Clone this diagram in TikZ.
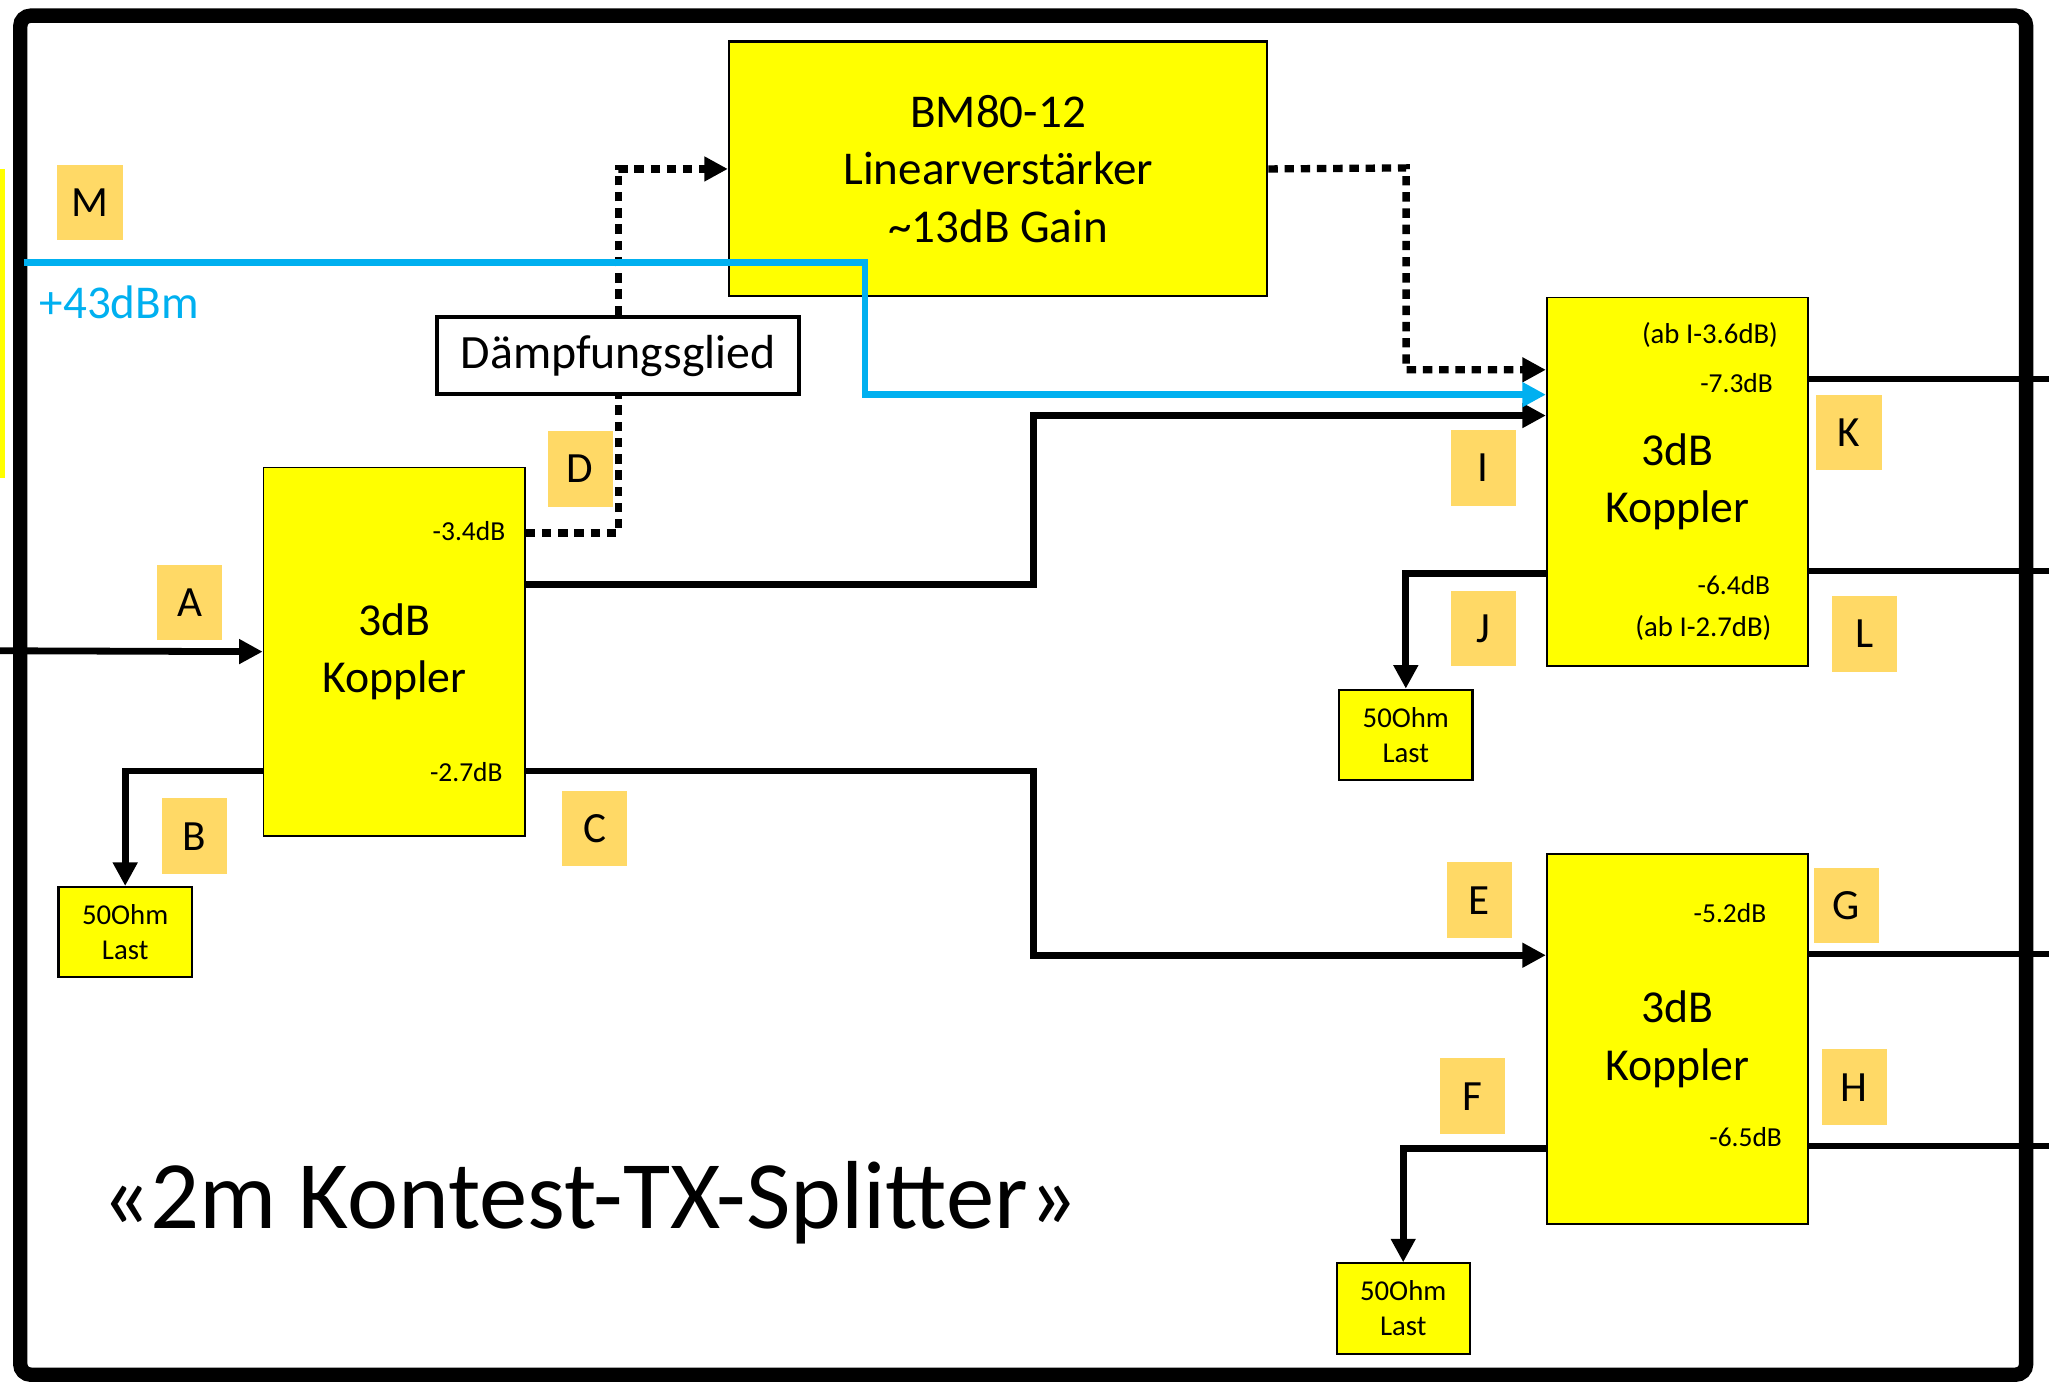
\documentclass[tikz,border=0pt]{standalone}
\usepackage{fontspec}
\setmainfont{Carlito}
\usetikzlibrary{arrows.meta}
\definecolor{boxyellow}{HTML}{FFFF00}
\definecolor{tagorange}{HTML}{FFD966}
\definecolor{sigblue}{HTML}{00B0F0}
\begin{document}
\begin{tikzpicture}[x=0.5pt,y=-0.5pt,
  koppler/.style={draw, line width=0.7pt, fill=boxyellow, minimum width=100pt, minimum height=141pt,
    anchor=north west, align=center, inner sep=0pt, font=\fontsize{17.5}{22}\selectfont},
  bigbox/.style={draw, line width=0.8pt, fill=boxyellow, minimum width=206pt, minimum height=97.5pt,
    anchor=north west, align=center, inner sep=0pt, font=\fontsize{18}{22}\selectfont},
  loadbox/.style={draw, line width=0.8pt, fill=boxyellow, minimum width=51pt, minimum height=34.5pt,
    anchor=north west, align=center, inner sep=0pt, font=\fontsize{11}{13.5}\selectfont},
  attbox/.style={draw, line width=1.6pt, fill=white, minimum width=138.5pt, minimum height=29.5pt,
    anchor=north west, inner sep=0pt, font=\fontsize{18.3}{22}\selectfont},
  tag/.style={fill=tagorange, minimum width=25pt, minimum height=29pt, inner sep=0pt,
    font=\fontsize{16.5}{20}\selectfont, text height=10.6pt, text depth=0pt},
  dbl/.style={inner sep=0pt, anchor=east, font=\fontsize{10.5}{12}\selectfont, text height=6.7pt, text depth=0pt},
  abl/.style={inner sep=0pt, anchor=east, font=\fontsize{11}{13}\selectfont, text height=7pt, text depth=0pt},
  wire/.style={line width=2.6pt},
  arr/.style={-{Triangle[length=9pt,width=9pt]}},
  dotwire/.style={line width=2.8pt, dash pattern=on 3.6pt off 2.6pt}
]
\useasboundingbox (0,0) rectangle (1568,1058);
\fill[white] (0,0) rectangle (1568,1058);
\fill[boxyellow] (0,129) rectangle (3.5,366);

% outer frame
\draw[line width=5.5pt, rounded corners=4pt] (15.5,12) rectangle (1550.5,1052);

% boxes
\node[koppler] (k1) at (201,357) {3dB\\Koppler};
\node[koppler] (k2) at (1183,227) {3dB\\Koppler};
\node[koppler, minimum height=141.5pt] (k3) at (1183,653) {3dB\\Koppler};
\node[bigbox] (bm) at (557,31) {BM80-12\\Linearverstärker\\\textasciitilde13dB Gain};
\node[attbox] (att) at (333,241) {Dämpfungsglied};
\node[loadbox] (ld1) at (44,678) {50Ohm\\Last};
\node[loadbox] (ld2) at (1024,527) {50Ohm\\Last};
\node[loadbox] (ld3) at (1022,966) {50Ohm\\Last};

% dB labels
\node[dbl] (d34) at (387,407) {-3.4dB};
\node[dbl] (d27) at (385,591) {-2.7dB};
\node[abl] (ab36) at (1361,256) {(ab I-3.6dB)};
\node[dbl] (d73) at (1357,294) {-7.3dB};
\node[dbl] (d64) at (1355,448) {-6.4dB};
\node[abl] (ab27) at (1356,480) {(ab I-2.7dB)};
\node[dbl] (d52) at (1352,699) {-5.2dB};
\node[dbl] (d65) at (1364,871) {-6.5dB};

% free ends
\coordinate (inA) at (0,498);
\coordinate (mstart) at (18,201);
\coordinate (outK) at (1568,290);
\coordinate (outL) at (1568,437);
\coordinate (outG) at (1568,730);
\coordinate (outH) at (1568,877);

% connectors
\draw[wire,arr] (inA) -- (k1.west);
\draw[wire,arr] (k1.west |- 0,590) -| (ld1.north);
\draw[wire,arr] (k1.east |- 0,590) -- (791,590) -- (791,731) -- (k3.west |- 0,731);
\draw[wire,arr] (k1.east |- 0,447) -- (791,447) -- (791,318) -- (k2.west |- 0,318);
\draw[dotwire] (k1.east |- 0,408) -| (att.south);
\draw[dotwire,arr] (att.north) |- (bm.west);
\draw[dotwire,arr] (bm.east) -- (1076,128.5) -- (1076,283) -- (k2.west |- 0,283);
\draw[sigblue, line width=2.5pt, arr] (mstart) -- (662,201) -- (662,302) -- (k2.west |- 0,302);
\draw[wire] (k2.east |- outK) -- (outK);
\draw[wire] (k2.east |- outL) -- (outL);
\draw[wire,arr] (k2.west |- 0,439) -| (ld2.north);
\draw[wire] (k3.east |- outG) -- (outG);
\draw[wire] (k3.east |- outH) -- (outH);
\draw[wire,arr] (k3.west |- 0,879) -| (ld3.north);

% tags
\node[tag] (tA) at (145,461) {A};
\node[tag] (tB) at (149,640) {B};
\node[tag] (tC) at (455,634) {C};
\node[tag] (tD) at (444,359) {D};
\node[tag] (tE) at (1132,689) {E};
\node[tag] (tF) at (1127,839) {F};
\node[tag] (tG) at (1413,693) {G};
\node[tag] (tH) at (1419,832) {H};
\node[tag] (tI) at (1135,358) {I};
\node[tag] (tJ) at (1135,481) {J};
\node[tag] (tK) at (1415,331) {K};
\node[tag] (tL) at (1427,485) {L};
\node[tag] (tM) at (69,155) {M};

% texts
\node[anchor=west, inner sep=0pt, text=sigblue, font=\fontsize{18}{21}\selectfont, text height=11.5pt, text depth=0pt] (pwr) at (30,232) {+43dBm};
\node[anchor=base west, inner sep=0pt, font=\fontsize{37}{44}\selectfont] (title) at (77,940) {«2m Kontest-TX-Splitter»};
\end{tikzpicture}
\end{document}
